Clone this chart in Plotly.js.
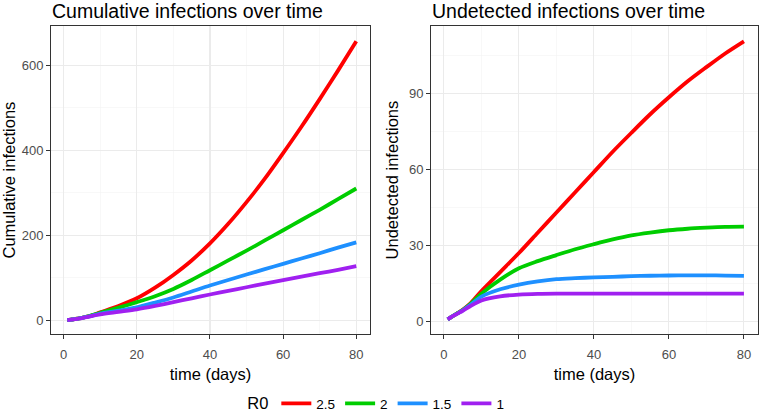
<!DOCTYPE html>
<html>
<head>
<meta charset="utf-8">
<script src="https://cdn.plot.ly/plotly-3.0.1.min.js"></script>
<style>html,body{margin:0;padding:0;background:#fff;}#chart{width:759px;height:420px;}</style>
</head>
<body>
<div id="chart"></div>
<script>
// ---- data ----
const days = [1, 2, 3, 4, 5, 7, 10, 15, 20, 25, 30, 35, 40, 45, 50, 55, 60, 65, 70, 75, 80];
const r0Labels = ["2.5", "2", "1.5", "1"];

const cumR25 = [1, 2, 3, 4.5, 6, 10, 19, 34, 52, 77, 107, 141, 181, 227, 278, 333, 393, 455, 520, 587, 656];
const cumR2  = [1, 2, 3, 4.5, 6, 10, 18, 30, 43, 57, 74, 95, 118, 141, 164, 188, 212, 236, 260, 285, 310];
const cumR15 = [1, 2, 3, 4.4, 5.8, 9.5, 16, 23, 31, 42, 54, 68, 82, 95, 108, 120.5, 133, 145.5, 158, 171, 183.5];
const cumR1  = [1, 2, 3, 4.3, 5.6, 9, 14, 20, 26, 34, 43, 52, 61, 69.5, 78, 86.5, 95, 103, 111, 119, 127.5];

const undR25 = [0.8, 1.8, 2.7, 3.6, 4.6, 7, 12, 19.5, 27, 35, 43, 51, 59, 67, 74.5, 81.8, 88.5, 94.8, 100.4, 105.8, 110.6];
const undR2  = [0.8, 1.8, 2.7, 3.6, 4.5, 6.8, 11, 16.5, 21, 23.8, 26.2, 28.5, 30.5, 32.4, 34, 35.1, 36, 36.6, 37, 37.3, 37.4];
const undR15 = [0.8, 1.8, 2.7, 3.5, 4.4, 6.5, 9.8, 12.7, 14.5, 15.8, 16.7, 17.1, 17.4, 17.6, 17.9, 18.05, 18.15, 18.2, 18.2, 18.1, 18.0];
const undR1  = [0.8, 1.8, 2.6, 3.4, 4.2, 6.0, 8.3, 9.9, 10.6, 10.9, 11.0, 11.0, 11.0, 11.0, 11.0, 11.0, 11.0, 11.0, 11.0, 11.0, 11.0];

const xTicks = [0, 20, 40, 60, 80];
const xMinor = [10, 30, 50, 70];
const cumTicks = [0, 200, 400, 600];
const cumMinor = [100, 300, 500];
const undTicks = [0, 30, 60, 90];
const undMinor = [15, 45, 75, 105];

// ---- styling ----
const colors = ["#FF0000", "#00CD00", "#1E90FF", "#A020F0"];
const FONT = "Liberation Sans, Arial, Helvetica, sans-serif";
const cumSeries = [cumR25, cumR2, cumR15, cumR1];
const undSeries = [undR25, undR2, undR15, undR1];

const traces = [];
cumSeries.forEach((ys, i) => {
  traces.push({x: days, y: ys, type: "scatter", mode: "lines", name: r0Labels[i],
    legendgroup: r0Labels[i], showlegend: true, xaxis: "x", yaxis: "y",
    line: {color: colors[i], width: 3.8, shape: "spline", smoothing: 0.8}});
});
undSeries.forEach((ys, i) => {
  traces.push({x: days, y: ys, type: "scatter", mode: "lines", name: r0Labels[i],
    legendgroup: r0Labels[i], showlegend: false, xaxis: "x2", yaxis: "y2",
    line: {color: colors[i], width: 3.8, shape: "spline", smoothing: 0.8}});
});

const W = 759, H = 420;
function axis(extra, minorVals) {
  return Object.assign({
    showline: true, mirror: true, linecolor: "#333333", linewidth: 1,
    ticks: "outside", ticklen: 4, tickwidth: 1, tickcolor: "#333333",
    showgrid: true, gridcolor: "#EBEBEB", gridwidth: 1.1,
    zeroline: false,
    tickfont: {family: FONT, size: 13, color: "#4D4D4D"},
    minor: {showgrid: true, gridcolor: "#F3F3F3", gridwidth: 0.6, ticks: "", tickvals: minorVals}
  }, extra);
}
const yDom = [(H - 342) / H, (H - 27) / H];
const titleFont = {family: FONT, size: 16.5, color: "#000"};

const layout = {
  width: W, height: H,
  paper_bgcolor: "#FFFFFF", plot_bgcolor: "#FFFFFF",
  margin: {l: 0, r: 0, t: 0, b: 0},
  font: {family: FONT, color: "#000000"},
  xaxis: axis({domain: [51 / W, 370 / W], range: [-3.45, 83.75], tickvals: xTicks, ticklabelstandoff: 5,
    title: {text: "time (days)", font: titleFont, standoff: 6}, anchor: "y"}, xMinor),
  yaxis: axis({domain: yDom, range: [-31.5, 691], tickvals: cumTicks,
    title: {text: "Cumulative infections", font: titleFont, standoff: 4}, anchor: "x"}, cumMinor),
  xaxis2: axis({domain: [431 / W, 758 / W], range: [-3.45, 83.75], tickvals: xTicks, ticklabelstandoff: 5,
    title: {text: "time (days)", font: titleFont, standoff: 6}, anchor: "y2"}, xMinor),
  yaxis2: axis({domain: yDom, range: [-4.9, 116.5], tickvals: undTicks,
    title: {text: "Undetected infections", font: titleFont, standoff: 6}, anchor: "x2"}, undMinor),
  showlegend: true,
  legend: {
    orientation: "h", x: 0.497, xanchor: "center", y: 6 / H, yanchor: "middle",
    font: {family: FONT, size: 13.5, color: "#000"},
    title: {text: "R0", font: {family: FONT, size: 16.5, color: "#000"}, side: "left"},
    itemwidth: 30, bgcolor: "rgba(0,0,0,0)", traceorder: "normal"
  },
  annotations: [
    {text: "Cumulative infections over time", xref: "paper", yref: "paper",
     x: 50 / W, y: 1 + 2 / H, xanchor: "left", yanchor: "top", showarrow: false,
     font: {family: FONT, size: 19.5, color: "#000"}},
    {text: "Undetected infections over time", xref: "paper", yref: "paper",
     x: 430 / W, y: 1 + 2 / H, xanchor: "left", yanchor: "top", showarrow: false,
     font: {family: FONT, size: 19.5, color: "#000"}}
  ]
};

Plotly.newPlot("chart", traces, layout, {staticPlot: true, displayModeBar: false});
</script>
</body>
</html>
